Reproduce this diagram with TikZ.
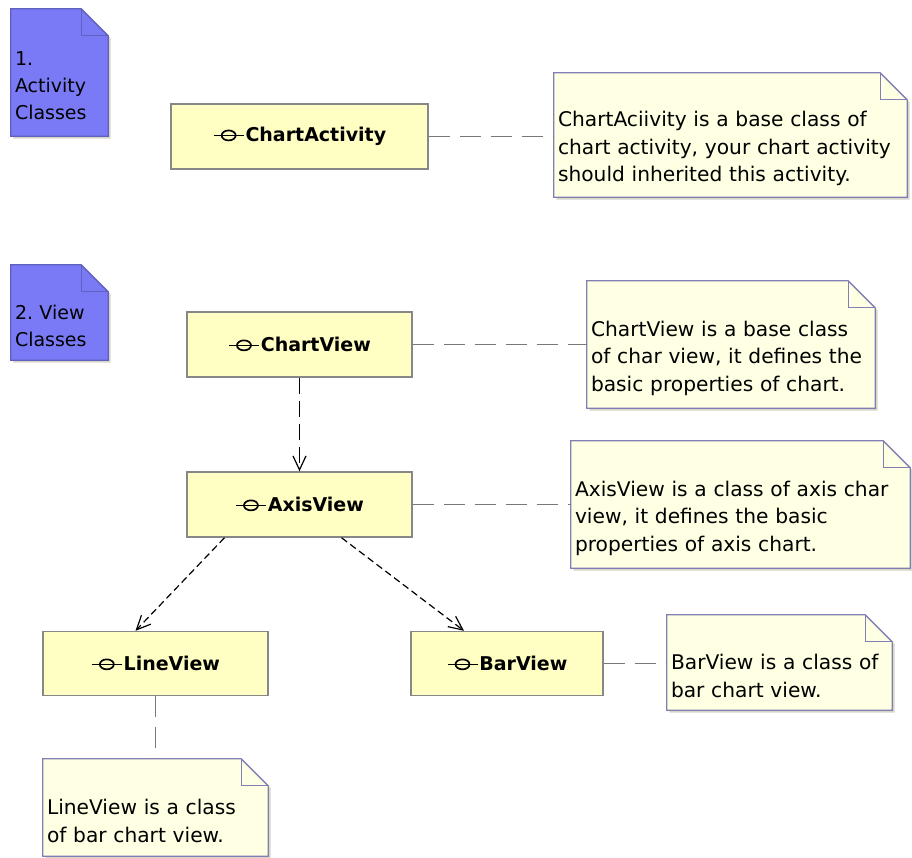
\documentclass[tikz,border=0pt]{standalone}
\usepackage{fontspec}
\setmainfont{DejaVu Sans}
\usepackage{tikz}
\usetikzlibrary{arrows.meta}
\usetikzlibrary{backgrounds}
\frenchspacing
\definecolor{clsfill}{RGB}{255,255,196}
\definecolor{clsline}{RGB}{135,135,135}
\definecolor{notefill}{RGB}{255,255,228}
\definecolor{noteline}{RGB}{128,128,180}
\definecolor{pkgfill}{RGB}{122,122,246}
\definecolor{pkgline}{RGB}{96,96,190}
\definecolor{linkgray}{RGB}{120,120,120}
\definecolor{shadowcol}{RGB}{215,212,200}
\newcommand{\clsicon}{\tikz[baseline=-0.6ex, x=1pt, y=1pt, line width=1.7pt]{%
    \draw (-15,0) -- (15,0); \draw (0,0) ellipse (7 and 5);}\hspace{1pt}}
% folded corner drawn round a note node
\newcommand{\dogear}[2]{%
  \fill[shadowcol, transform canvas={shift={(2.5pt,-2.5pt)}}] (#1.south west) -- ([yshift=27pt]#1.north west)
    -- ([xshift=-27pt,yshift=27pt]#1.north east) -- (#1.north east) -- (#1.south east) -- cycle;
  \path[#2] (#1.south west) -- ([yshift=27pt]#1.north west)
    -- ([xshift=-27pt,yshift=27pt]#1.north east) -- (#1.north east) -- (#1.south east) -- cycle;
  \draw[#2, fill=none] ([xshift=-27pt,yshift=27pt]#1.north east) |- (#1.north east);}
\tikzset{
  clsbox/.style={
    draw=clsline,
    fill=clsfill,
    line width=1.4pt,
    shape=rectangle,
    minimum height=65pt,
    inner sep=0pt,
    font=\fontsize{19}{23}\selectfont\bfseries
  },
  notebox/.style={
    shape=rectangle,
    align=left,
    inner xsep=4pt,
    inner ysep=0pt,
    font=\fontsize{20.2}{27.5}\selectfont
  },
  pkgbox/.style={
    notebox,
    font=\fontsize{19}{27}\selectfont
  },
  noteoutline/.style={
    draw=noteline,
    fill=notefill,
    line width=1.3pt
  },
  pkgoutline/.style={
    draw=pkgline,
    fill=pkgfill,
    line width=1.3pt
  },
  notelink/.style={
    draw=linkgray,
    line width=1.2pt,
    dash pattern=on 21pt off 10pt
  },
  deparrow/.style={
    draw=black,
    line width=1.2pt,
    dash pattern=on 16pt off 7pt,
    -{Straight Barb[length=14pt,width=13pt,line width=1.2pt]}
  }
}

\begin{document}
\begin{tikzpicture}[x=1pt, y=-1pt]
    \useasboundingbox (0,0) rectangle (912,857);

    % package notes
    \node [pkgbox, text width=89pt, minimum height=100pt] (p1) at (59.5, 86) {1.\\Activity\\Classes};
    \node [pkgbox, text width=89pt, minimum height=68pt] (p2) at (59.5, 326) {2. View\\Classes};

    % classes
    \node [clsbox, minimum width=257pt] (ca) at (299.5, 136.5) {\clsicon ChartActivity};
    \node [clsbox, minimum width=225pt] (cv) at (299.5, 344.5) {\clsicon ChartView};
    \node [clsbox, minimum width=225pt] (av) at (299.5, 504.5) {\clsicon AxisView};
    \node [clsbox, minimum width=225pt, minimum height=64pt] (lv) at (155.5, 663.5) {\clsicon LineView};
    \node [clsbox, minimum width=192pt, minimum height=64pt] (bv) at (507, 663.5) {\clsicon BarView};

    % comments
    \node [notebox, text width=345pt, minimum height=97pt] (nca) at (730.5, 148.5)
        {ChartAciivity is a base class of\\chart activity, your chart activity\\should inherited this activity.};
    \node [notebox, text width=280pt, minimum height=100pt] (ncv) at (731, 358)
        {ChartView is a base class\\of char view, it defines the\\basic properties of chart.};
    \node [notebox, text width=331pt, minimum height=100pt] (nav) at (740.5, 518)
        {AxisView is a class of axis char\\view, it defines the basic\\properties of axis chart.};
    \node [notebox, text width=217pt, minimum height=68pt] (nbv) at (779.5, 676)
        {BarView is a class of\\bar chart view.};
    \node [notebox, text width=217pt, minimum height=70pt] (nlv) at (155.5, 821)
        {LineView is a class\\of bar chart view.};

    \begin{scope}[on background layer]
    \dogear{p1}{pkgoutline}
    \dogear{p2}{pkgoutline}
    \dogear{nca}{noteoutline}
    \dogear{ncv}{noteoutline}
    \dogear{nav}{noteoutline}
    \dogear{nbv}{noteoutline}
    \dogear{nlv}{noteoutline}
    \end{scope}

    \draw [notelink] (ca.east) -- (ca.east -| nca.west);
    \draw [notelink] (cv.east) -- (cv.east -| ncv.west);
    \draw [notelink] (av.east) -- (av.east -| nav.west);
    \draw [notelink] (bv.east) -- (bv.east -| nbv.west);
    \draw [notelink] (lv.south) -- ([yshift=27pt]nlv.north);

    \draw [deparrow] (cv.south) -- (av.north);
    \draw [deparrow, dash pattern=on 7pt off 4pt] ([xshift=-75pt]av.south) -- ([xshift=-20pt]lv.north);
    \draw [deparrow, dash pattern=on 7pt off 4pt] ([xshift=42pt]av.south) -- ([xshift=-43pt]bv.north);

  \end{tikzpicture}
\end{document}
